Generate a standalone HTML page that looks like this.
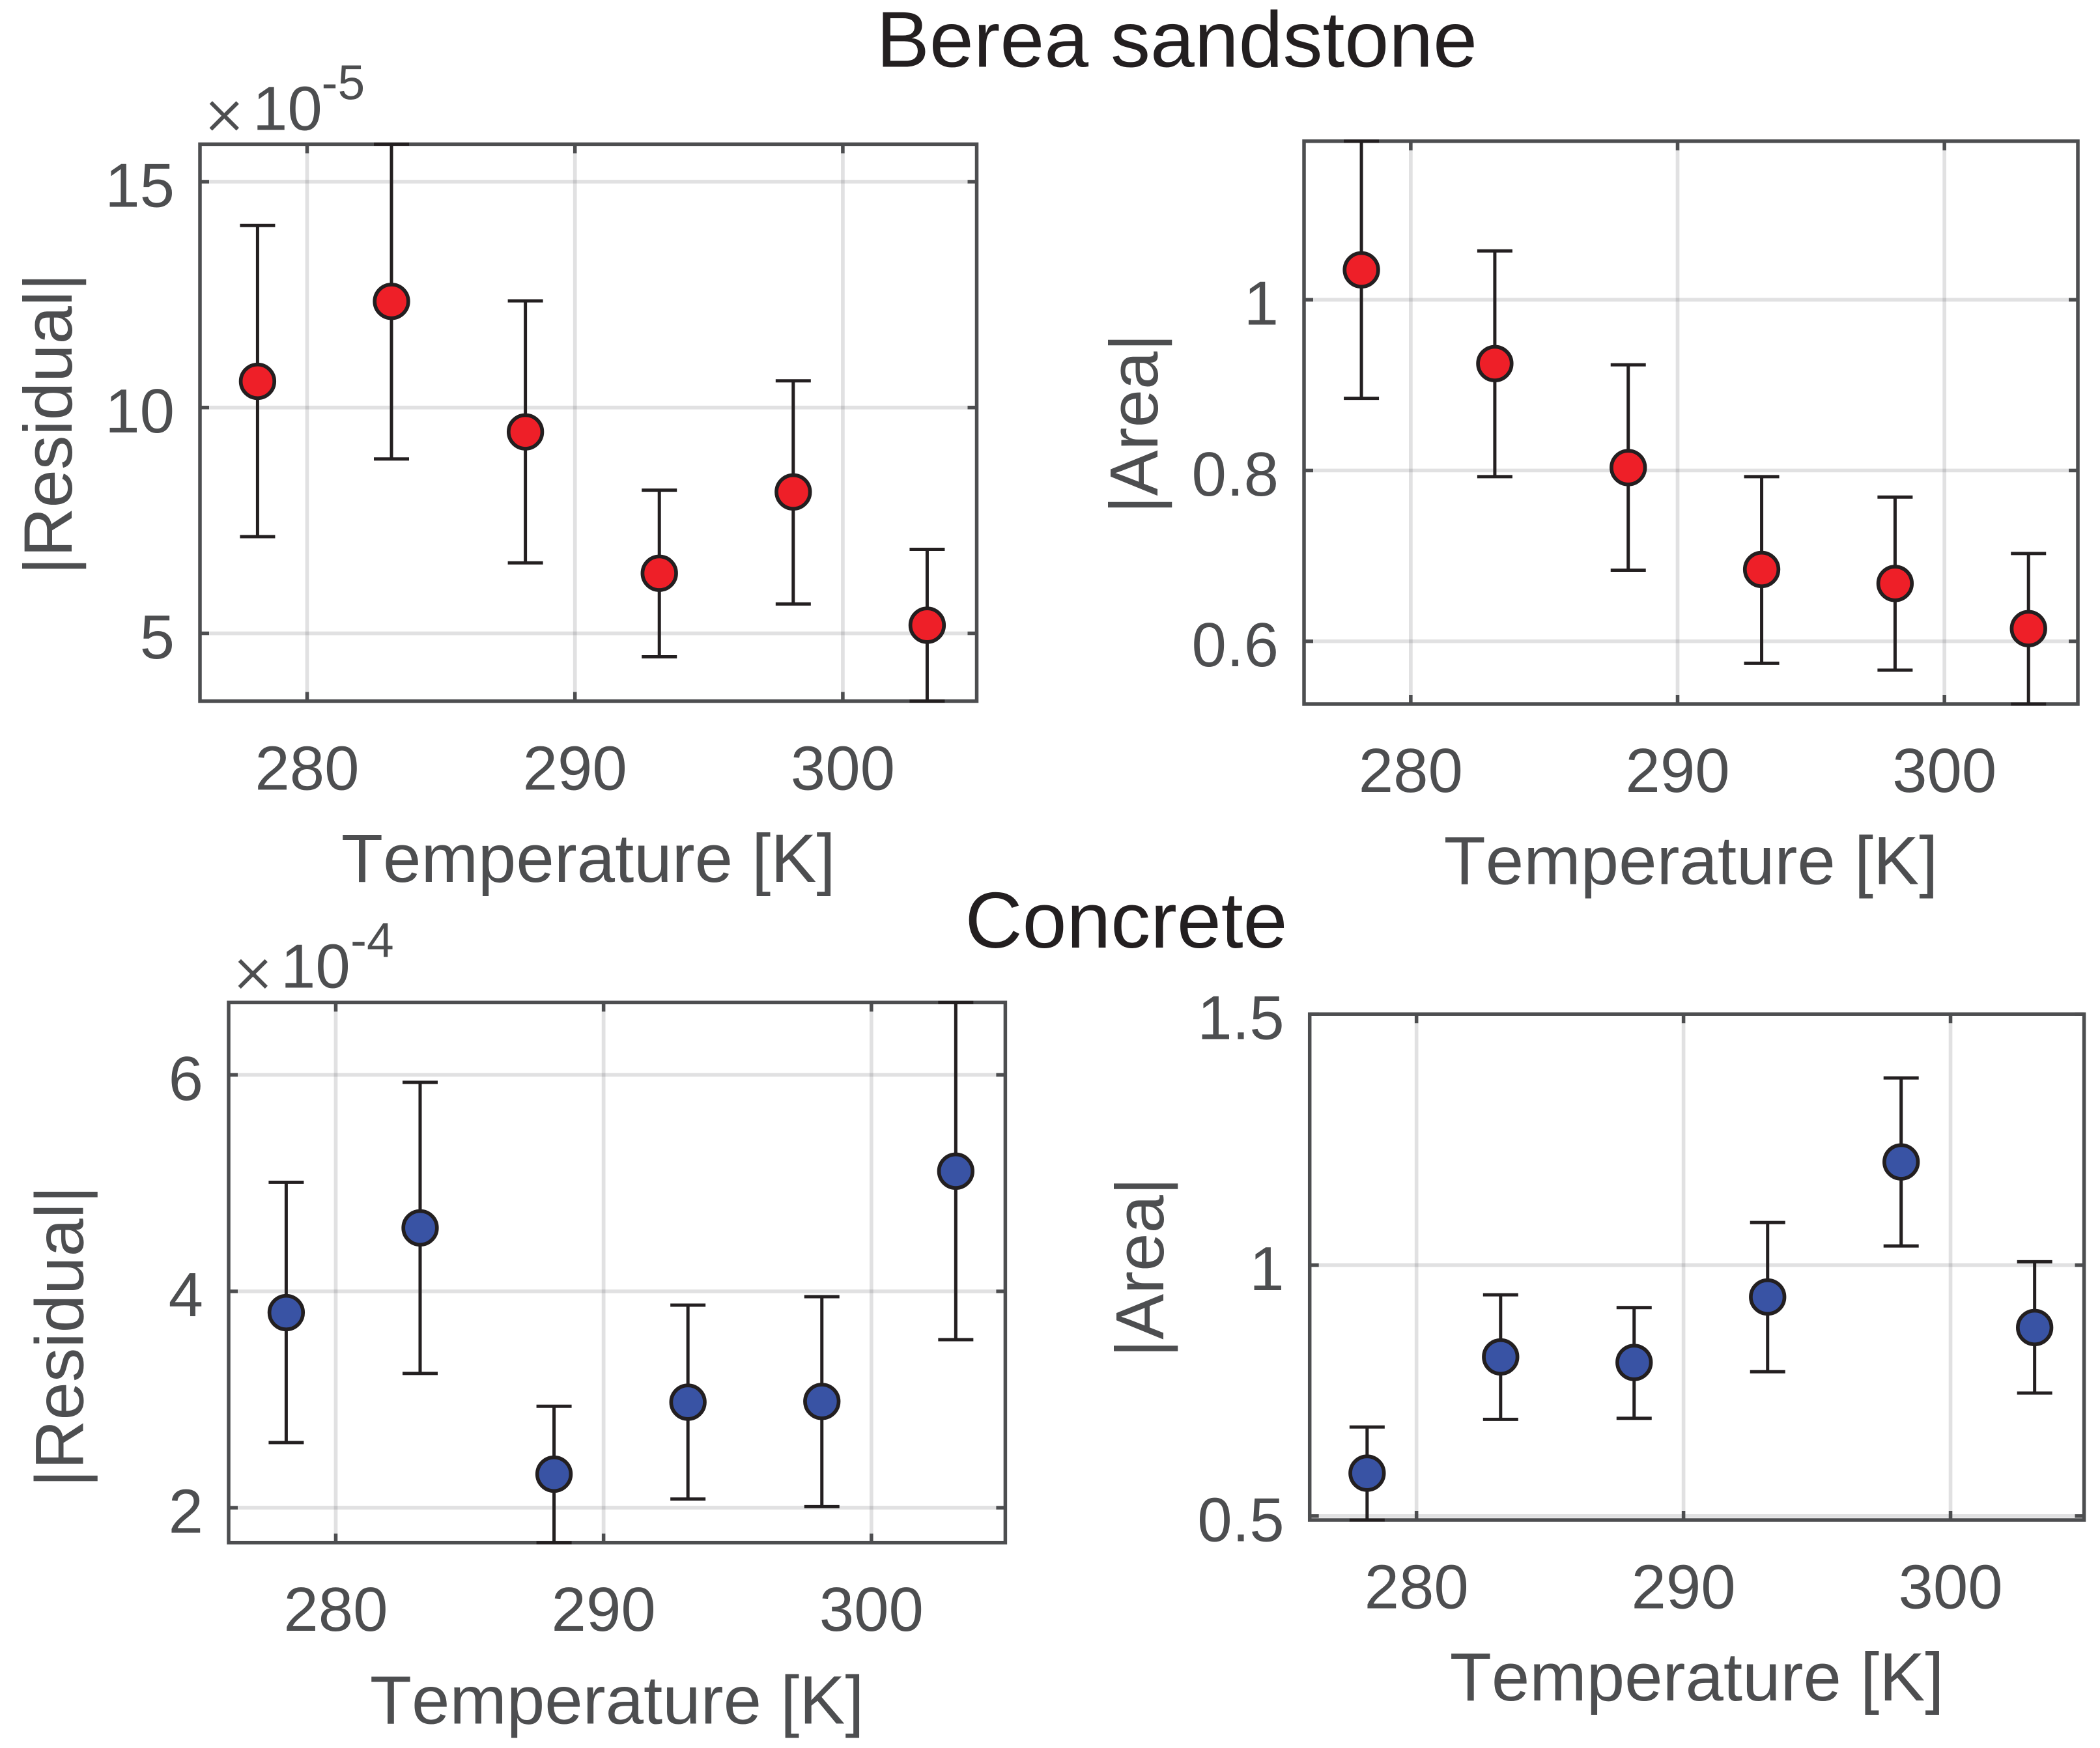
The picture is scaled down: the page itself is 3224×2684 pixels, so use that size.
<!DOCTYPE html>
<html lang="en">
<head>
<meta charset="utf-8">
<title>Berea sandstone and Concrete: residual and area against temperature</title>
<style>
html,body{margin:0;padding:0;background:#fff;}
svg{display:block;}
text{font-family:"Liberation Sans",Arial,sans-serif;fill:#4d4e50;font-kerning:none;}
</style>
</head>
<body>
<svg id="figure" xmlns="http://www.w3.org/2000/svg" width="3224" height="2684" viewBox="0 0 3224 2684">
<rect width="3224" height="2684" fill="#fff"/>
<text x="1345.5" y="102.5" font-size="122" style="fill:#231f20">Berea sandstone</text>
<text x="1481.5" y="1455" font-size="122" style="fill:#231f20">Concrete</text>
<g id="plots"></g>
</svg>
<script>
// ---- data ----
const temperatures = [278.15, 283.15, 288.15, 293.15, 298.15, 303.15];
const xTicks = [280, 290, 300];

const bereaResidual = [10.58, 12.35, 9.46, 6.33, 8.13, 5.18];
const bereaResidualUpper = [14.03, 15.83, 12.36, 8.17, 10.59, 6.86];
const bereaResidualLower = [7.14, 8.86, 6.56, 4.48, 5.65, 3.5];
const bereaResidualTicks = [5, 10, 15];

const bereaArea = [1.035, 0.9252, 0.8034, 0.6841, 0.6677, 0.6148];
const bereaAreaUpper = [1.1857, 1.0572, 0.9238, 0.7928, 0.7689, 0.7028];
const bereaAreaLower = [0.8845, 0.7928, 0.6833, 0.5743, 0.5662, 0.5265];
const bereaAreaTicks = [0.6, 0.8, 1];

const concreteResidual = [3.803, 4.586, 2.31, 2.975, 2.982, 5.11];
const concreteResidualUpper = [5.007, 5.931, 2.938, 3.872, 3.95, 6.669];
const concreteResidualLower = [2.602, 3.241, 1.677, 2.08, 2.01, 3.553];
const concreteResidualTicks = [2, 4, 6];

const concreteArea = [0.5854, 0.817, 0.806, 0.9364, 1.2055, 0.8756];
const concreteAreaUpper = [0.6774, 0.9408, 0.9153, 1.0849, 1.373, 1.0066];
const concreteAreaLower = [0.492, 0.6926, 0.6948, 0.7876, 1.0381, 0.7451];
const concreteAreaTicks = [0.5, 1, 1.5];

// ---- layout ----
const xLimits = [276, 305];
const panels = [
  {id:'berea-residual', l:307, r:1499.5, t:221.4, b:1076.5, yMin:3.5, yMax:15.83, values:bereaResidual, upper:bereaResidualUpper, lower:bereaResidualLower, ticks:bereaResidualTicks, label:'|Residual|', labelX:110, labelY:651, tickBase:1212.5, xLabelBase:1354, fill:'#ee1f28', exp:{times:313, timesY:213.4, ten:388, tenY:199.5, sup:493.5, supY:152.5, text:'-5'}},
  {id:'berea-area', l:2002, r:3190, t:216.8, b:1081, yMin:0.5265, yMax:1.1857, values:bereaArea, upper:bereaAreaUpper, lower:bereaAreaLower, ticks:bereaAreaTicks, label:'|Area|', labelX:1777, labelY:650.5, tickBase:1216, xLabelBase:1357.5, fill:'#ee1f28'},
  {id:'concrete-residual', l:351, r:1543.4, t:1539.3, b:2368.7, yMin:1.677, yMax:6.669, values:concreteResidual, upper:concreteResidualUpper, lower:concreteResidualLower, ticks:concreteResidualTicks, label:'|Residual|', labelX:127.5, labelY:2052, tickBase:2504, xLabelBase:2646.5, fill:'#3953a4', exp:{times:357, timesY:1531, ten:431, tenY:1516.5, sup:538, supY:1469, text:'-4'}},
  {id:'concrete-area', l:2010.7, r:3199.5, t:1557.2, b:2334, yMin:0.492, yMax:1.5, values:concreteArea, upper:concreteAreaUpper, lower:concreteAreaLower, ticks:concreteAreaTicks, label:'|Area|', labelX:1786, labelY:1946, tickBase:2469.5, xLabelBase:2611, fill:'#3953a4'}
];

const NS = 'http://www.w3.org/2000/svg';
const FRAME = '#4d4e50';
const INK = '#231f20';

function make(parent, tag, attrs, content) {
  const el = document.createElementNS(NS, tag);
  for (const k in attrs) el.setAttribute(k, attrs[k]);
  if (content !== undefined) el.textContent = content;
  parent.appendChild(el);
  return el;
}

function drawPanel(p) {
  const x = v => p.l + (v - xLimits[0]) / (xLimits[1] - xLimits[0]) * (p.r - p.l);
  const y = v => p.b - (v - p.yMin) / (p.yMax - p.yMin) * (p.b - p.t);
  const clampY = v => y(Math.min(p.yMax, Math.max(p.yMin, v)));
  const root = document.getElementById('plots');

  const g = make(root, 'g', {});
  
  

  // grid lines
  xTicks.forEach(t => {
    const line = make(g, 'line', {x1:x(t), x2:x(t), y1:p.t, y2:p.b, stroke:'#38383a', 'stroke-opacity':0.15, 'stroke-width':5.7});
    
    
  });
  p.ticks.forEach(t => {
    const line = make(g, 'line', {x1:p.l, x2:p.r, y1:y(t), y2:y(t), stroke:'#38383a', 'stroke-opacity':0.15, 'stroke-width':5.7});
    
    
  });

  // frame
  const frame = make(g, 'rect', {x:p.l, y:p.t, width:p.r - p.l, height:p.b - p.t, fill:'none', stroke:FRAME, 'stroke-width':5.5});
  
  

  // ticks and tick labels
  xTicks.forEach(t => {
    const bottom = make(g, 'line', {x1:x(t), x2:x(t), y1:p.b, y2:p.b - 14, stroke:FRAME, 'stroke-width':5.5});
    
    
    const top = make(g, 'line', {x1:x(t), x2:x(t), y1:p.t, y2:p.t + 14, stroke:FRAME, 'stroke-width':5.5});
    
    
    const label = make(g, 'text', {x:x(t), y:p.tickBase, 'font-size':96, 'text-anchor':'middle'}, String(t));
    
    
  });
  p.ticks.forEach(t => {
    const left = make(g, 'line', {x1:p.l, x2:p.l + 14, y1:y(t), y2:y(t), stroke:FRAME, 'stroke-width':5.5});
    
    
    const right = make(g, 'line', {x1:p.r, x2:p.r - 14, y1:y(t), y2:y(t), stroke:FRAME, 'stroke-width':5.5});
    
    
    const label = make(g, 'text', {x:p.l - 39, y:y(t) + 38.5, 'font-size':96, 'text-anchor':'end'}, String(t));
    
    
  });

  // axis titles
  const xTitle = make(g, 'text', {x:(p.l + p.r) / 2, y:p.xLabelBase, 'font-size':105, 'text-anchor':'middle'}, 'Temperature [K]');
  
  
  const yTitle = make(g, 'text', {x:p.labelX, y:p.labelY, 'font-size':105, 'text-anchor':'middle', transform:'rotate(-90 ' + p.labelX + ' ' + p.labelY + ')'}, p.label);
  
  

  // scale exponent
  if (p.exp) {
    const times = make(g, 'text', {x:p.exp.times, y:p.exp.timesY, 'font-size':107, stroke:'#fff', 'stroke-width':1.6, 'paint-order':'normal'}, '\u00d7');
    
    
    const ten = make(g, 'text', {x:p.exp.ten, y:p.exp.tenY, 'font-size':96}, '10');
    
    
    const sup = make(g, 'text', {x:p.exp.sup, y:p.exp.supY, 'font-size':75}, p.exp.text);
    
    
  }

  // error bars and markers
  temperatures.forEach((t, i) => {
    const cx = x(t), top = clampY(p.upper[i]), bot = clampY(p.lower[i]);
    const stem = make(g, 'line', {x1:cx, x2:cx, y1:top, y2:bot, stroke:INK, 'stroke-width':5});
    
    
    const capTop = make(g, 'line', {x1:cx - 27, x2:cx + 27, y1:top, y2:top, stroke:INK, 'stroke-width':5});
    
    
    const capBot = make(g, 'line', {x1:cx - 27, x2:cx + 27, y1:bot, y2:bot, stroke:INK, 'stroke-width':5});
    
    
  });
  temperatures.forEach((t, i) => {
    const dot = make(g, 'circle', {cx:x(t), cy:y(p.values[i]), r:25.8, fill:p.fill, stroke:INK, 'stroke-width':5.7});
    
    
  });
}

panels.forEach(drawPanel);
</script>
</body>
</html>
